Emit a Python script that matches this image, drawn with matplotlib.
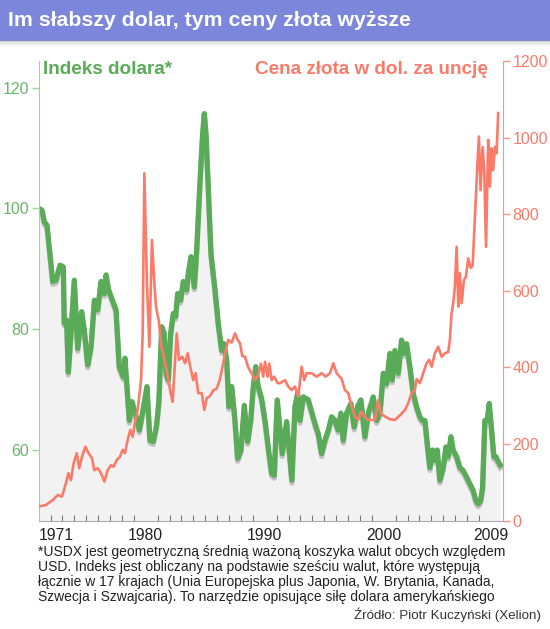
import matplotlib
import matplotlib.pyplot as plt
import matplotlib.patheffects as pe
from matplotlib.patches import Rectangle
import numpy as np

matplotlib.use('Agg')
plt.rcParams['font.family'] = ['Liberation Sans', 'DejaVu Sans']

# indeks dolara
dollar_years = [1971.0, 1971.28, 1971.47, 1971.7, 1972.18, 1972.45, 1972.79, 1973.07, 1973.15, 1973.35,
                1973.49, 1973.71, 1973.99, 1974.28, 1974.61, 1974.83, 1975.12, 1975.4, 1975.68, 1975.96,
                1976.24, 1976.52, 1976.66, 1976.88, 1977.5, 1977.77, 1978.11, 1978.25, 1978.62, 1978.84,
                1979.12, 1979.46, 1979.82, 1980.1, 1980.35, 1980.63, 1980.9, 1981.1, 1981.34, 1981.55,
                1981.7, 1981.89, 1982.09, 1982.31, 1982.51, 1982.68, 1982.93, 1983.15, 1983.44, 1983.57,
                1983.8, 1984.08, 1984.28, 1984.55, 1984.78, 1984.92, 1985.06, 1985.25, 1985.48, 1985.82,
                1986.09, 1986.38, 1986.57, 1986.8, 1986.99, 1987.22, 1987.5, 1987.72, 1988.0, 1988.28,
                1988.56, 1988.82, 1989.04, 1989.24, 1989.45, 1989.74, 1990.02, 1990.29, 1990.58, 1990.8,
                1991.05, 1991.47, 1991.84, 1992.28, 1992.54, 1992.76, 1992.96, 1993.24, 1993.66, 1994.22,
                1994.5, 1994.78, 1995.06, 1995.34, 1995.62, 1995.9, 1996.18, 1996.4, 1996.6, 1996.88,
                1997.24, 1997.52, 1997.8, 1998.08, 1998.42, 1998.7, 1999.12, 1999.4, 1999.68, 1999.96,
                2000.24, 2000.52, 2000.71, 2000.94, 2001.22, 2001.5, 2001.7, 2001.92, 2002.2, 2002.48,
                2002.76, 2003.04, 2003.23, 2003.46, 2003.66, 2003.88, 2004.11, 2004.3, 2004.5, 2004.72,
                2005.0, 2005.23, 2005.42, 2005.65, 2005.84, 2006.13, 2006.4, 2006.68, 2006.97, 2007.24,
                2007.52, 2007.75, 2007.95, 2008.14, 2008.31, 2008.5, 2008.7, 2008.87, 2009.07, 2009.26,
                2009.43, 2009.62, 2009.8]
dollar_index = [100.0, 99.7, 97.8, 97.2, 87.9, 88.1, 90.6, 90.3, 81.0, 81.5,
                72.9, 79.3, 88.1, 76.8, 82.9, 79.9, 74.1, 77.1, 84.8, 83.2,
                87.9, 85.9, 89.0, 86.5, 83.2, 73.8, 72.1, 75.2, 64.9, 68.0,
                66.1, 63.3, 67.2, 70.5, 61.6, 61.4, 64.0, 68.0, 80.4, 79.3,
                72.7, 71.6, 79.3, 82.6, 82.1, 85.9, 84.8, 87.9, 86.5, 89.2,
                92.0, 87.0, 93.1, 104.1, 112.4, 115.7, 112.4, 103.6, 92.5, 86.5,
                81.0, 76.5, 77.6, 74.9, 67.2, 70.5, 64.9, 58.6, 60.0, 67.4,
                61.4, 64.9, 70.5, 73.8, 70.5, 68.5, 64.9, 60.5, 56.1, 55.8,
                68.3, 59.4, 64.7, 55.0, 67.2, 69.4, 64.9, 68.8, 68.3, 64.4,
                62.7, 59.4, 61.6, 63.3, 65.5, 64.9, 63.3, 66.1, 61.6, 66.1,
                67.7, 63.8, 67.2, 68.3, 62.2, 66.1, 68.8, 64.9, 66.1, 72.7,
                71.0, 76.0, 71.6, 76.5, 72.7, 78.2, 76.0, 77.6, 73.8, 69.4,
                67.2, 65.5, 64.9, 64.9, 61.1, 57.1, 60.0, 58.3, 60.0, 55.0,
                57.1, 60.5, 58.9, 62.2, 60.0, 58.9, 57.1, 56.6, 55.5, 54.4,
                53.3, 51.6, 51.1, 51.6, 53.8, 64.9, 64.9, 67.7, 63.3, 58.9,
                58.9, 58.1, 57.5]

# cena zlota w USD za uncje
gold_years = [1971.0, 1971.61, 1972.18, 1972.6, 1972.96, 1973.29, 1973.49, 1973.71, 1973.94, 1974.19,
              1974.41, 1974.64, 1974.92, 1975.2, 1975.48, 1975.67, 1975.96, 1976.24, 1976.52, 1976.8,
              1977.08, 1977.3, 1977.55, 1977.83, 1978.06, 1978.25, 1978.48, 1978.7, 1978.9, 1979.12,
              1979.32, 1979.6, 1979.74, 1979.88, 1980.1, 1980.3, 1980.52, 1980.72, 1980.86, 1981.1,
              1981.3, 1981.5, 1981.7, 1981.9, 1982.09, 1982.26, 1982.45, 1982.6, 1982.79, 1983.07,
              1983.3, 1983.52, 1983.8, 1983.99, 1984.19, 1984.41, 1984.7, 1984.92, 1985.12, 1985.39,
              1985.67, 1985.96, 1986.24, 1986.51, 1986.66, 1986.93, 1987.22, 1987.5, 1987.72, 1987.92,
              1988.11, 1988.34, 1988.61, 1988.9, 1989.18, 1989.45, 1989.68, 1989.87, 1990.02, 1990.24,
              1990.38, 1990.58, 1990.8, 1991.08, 1991.28, 1991.7, 1991.98, 1992.26, 1992.54, 1992.82,
              1993.1, 1993.32, 1993.52, 1993.94, 1994.36, 1994.78, 1995.12, 1995.48, 1995.76, 1996.04,
              1996.46, 1996.74, 1997.02, 1997.3, 1997.58, 1997.86, 1998.08, 1998.36, 1998.65, 1998.98,
              1999.26, 1999.54, 1999.77, 2000.1, 2000.52, 2000.94, 2001.36, 2001.78, 2002.06, 2002.34,
              2002.62, 2002.76, 2003.04, 2003.32, 2003.6, 2003.82, 2004.03, 2004.3, 2004.58, 2004.87,
              2005.14, 2005.42, 2005.56, 2005.7, 2005.84, 2005.98, 2006.13, 2006.27, 2006.4, 2006.55,
              2006.74, 2006.91, 2007.1, 2007.3, 2007.47, 2007.66, 2007.86, 2008.0, 2008.14, 2008.31,
              2008.45, 2008.6, 2008.78, 2008.92, 2009.07, 2009.2, 2009.35, 2009.49, 2009.62]
gold_price = [37, 41, 54, 67, 63, 98, 124, 106, 150, 176,
              137, 167, 193, 176, 163, 132, 137, 124, 102, 132,
              145, 141, 158, 167, 185, 176, 211, 237, 219, 263,
              289, 367, 489, 907, 620, 454, 733, 620, 559, 520,
              455, 430, 400, 367, 333, 310, 411, 489, 420, 428,
              411, 437, 393, 367, 385, 333, 333, 289, 320, 325,
              340, 345, 370, 411, 437, 472, 465, 489, 472, 463,
              430, 428, 400, 385, 367, 380, 410, 376, 415, 376,
              410, 367, 376, 359, 359, 367, 350, 341, 350, 324,
              402, 367, 385, 385, 376, 385, 376, 385, 411, 385,
              370, 341, 333, 298, 272, 263, 285, 272, 263, 263,
              263, 315, 280, 272, 265, 263, 275, 289, 307, 333,
              341, 370, 359, 385, 411, 420, 402, 437, 454, 428,
              437, 440, 472, 541, 568, 611, 715, 559, 646, 568,
              628, 637, 685, 660, 665, 790, 920, 1003, 863, 975,
              915, 715, 994, 872, 972, 915, 976, 959, 1064]

year_labels = ['1971', '1980', '1990', '2000', '2009']
year_ticks = [1971, 1980, 1990, 2000, 2009]

GREEN = '#5aab58'
GREEN_LIGHT = '#9fd39c'
GREEN_TXT = '#6cb46a'
SALMON = '#fa7b6a'
SALMON_LIGHT = '#f8958a'

fig = plt.figure(figsize=(5.5, 6.29), dpi=100)

# pasek tytulu
fig.patches.append(Rectangle((0, 1 - 40 / 629), 1, 40 / 629, transform=fig.transFigure,
                             color='#7c87dc', zorder=0))
for i in range(7):
    fig.patches.append(Rectangle((0, 1 - (41 + i) / 629), 1, 1 / 629, transform=fig.transFigure,
                                 color='#999999', alpha=0.35 * (1 - i / 7), lw=0, zorder=0))
fig.text(8 / 550, 1 - 20 / 629, 'Im słabszy dolar, tym ceny złota wyższe', color='white',
         fontsize=15.3, fontweight='bold', va='center', ha='left')

ax = fig.add_axes([38.7 / 550, 1 - 520.7 / 629, 464 / 550, 459.7 / 629])
ax.set_xlim(1971.0, 2010.0)
ax.set_ylim(48.3, 124.4)

ax.fill_between(dollar_years, dollar_index, 48.3, color='#f2f2f2', lw=0)
ax.plot(dollar_years, dollar_index, color=GREEN, lw=3.8, solid_joinstyle='round',
        path_effects=[pe.SimpleLineShadow(offset=(0, -2), shadow_color='#888888', alpha=0.45),
                      pe.Normal()])

ax.set_yticks([60, 80, 100, 120])
ax.tick_params(axis='y', colors=GREEN_LIGHT, labelcolor=GREEN_TXT, labelsize=11.5, length=5, width=1, pad=2)
ax.set_xticks(year_ticks)
ax.set_xticklabels(year_labels)
ax.set_xticks(np.arange(1972, 2010), minor=True)
ax.tick_params(axis='x', which='major', length=0, labelsize=11.3, labelcolor='#222222', pad=5)
ax.tick_params(axis='x', which='minor', direction='in', length=4, width=0.8, color='#777777')
ax.get_xticklabels()[0].set_ha('left')

for s in ['top', 'right']:
    ax.spines[s].set_visible(False)
ax.spines['left'].set_color(GREEN_LIGHT)
ax.spines['bottom'].set_color('#aaaaaa')

ax2 = ax.twinx()
ax2.set_ylim(0, 1200)
ax2.plot(gold_years, gold_price, color=SALMON, lw=1.9, solid_joinstyle='round')
ax2.set_yticks(np.arange(0, 1201, 200))
ax2.tick_params(axis='y', colors=SALMON_LIGHT, labelcolor=SALMON, labelsize=11.5, length=5, width=1, pad=2)
for s in ['top', 'left', 'bottom']:
    ax2.spines[s].set_visible(False)
ax2.spines['right'].set_color(SALMON_LIGHT)

fig.text(43 / 550, 1 - 70 / 629, 'Indeks dolara*', color=GREEN, fontsize=13.6,
         fontweight='bold', va='center', ha='left')
fig.text(488 / 550, 1 - 70 / 629, 'Cena złota w dol. za uncję', color=SALMON, fontsize=13.6,
         fontweight='bold', va='center', ha='right')

note = ('*USDX jest geometryczną średnią ważoną koszyka walut obcych względem\n'
        'USD. Indeks jest obliczany na podstawie sześciu walut, które występują\n'
        'łącznie w 17 krajach (Unia Europejska plus Japonia, W. Brytania, Kanada,\n'
        'Szwecja i Szwajcaria). To narzędzie opisujące siłę dolara amerykańskiego')
fig.text(38 / 550, 1 - 545 / 629, note, fontsize=10, color='#222222', va='top', ha='left',
         linespacing=1.08)
fig.text(541 / 550, 1 - 615 / 629, 'Źródło: Piotr Kuczyński (Xelion)', fontsize=9.6,
         color='#333333', va='center', ha='right')

fig.savefig('out.png', dpi=100)
